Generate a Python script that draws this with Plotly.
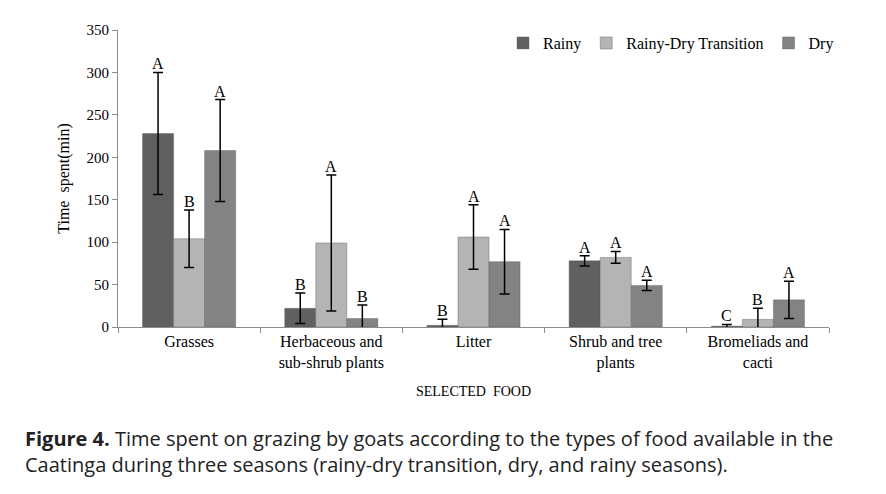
import plotly.graph_objects as go

categories = ["Grasses", "Herbaceous and<br>sub-shrub plants", "Litter",
              "Shrub and tree<br>plants", "Bromeliads and<br>cacti"]
series_names = ["Rainy", "Rainy-Dry Transition", "Dry"]
rainy = [228, 22, 2, 78, 1]
rainy_err = [72, 18, 7, 6, 2]
rainy_letters = ["A", "B", "B", "A", "C"]
transition = [104, 99, 106, 82, 9]
transition_err = [34, 80, 38, 7, 13]
transition_letters = ["B", "A", "A", "A", "B"]
dry = [208, 10, 77, 49, 32]
dry_err = [60, 16, 38, 6, 22]
dry_letters = ["A", "B", "A", "A", "A"]
y_ticks = [0, 50, 100, 150, 200, 250, 300, 350]

colors = ["#606060", "#b4b4b4", "#838383"]
values = [rainy, transition, dry]
errors = [rainy_err, transition_err, dry_err]
letters = [rainy_letters, transition_letters, dry_letters]

# page has an 8px body margin, so the figure is sized to fit the window
W, H = 878, 486
ML, MR, MT, MB = 110, 57, 22, 167
BARGAP = 0.345
serif = "Liberation Serif, Times New Roman, serif"

fig = go.Figure()
for name, v, e, c in zip(series_names, values, errors, colors):
    fig.add_trace(go.Bar(
        name=name, x=categories, y=v,
        marker=dict(color=c, line=dict(color="#5a5a5a", width=0.4)),
        error_y=dict(type="data", array=e, visible=True, color="black",
                     thickness=1.5, width=5),
    ))

plot_w = W - ML - MR
plot_h = H - MT - MB
cat_w = plot_w / len(categories)
bar_w = cat_w * (1 - BARGAP) / len(series_names)
for i, (v, e, L) in enumerate(zip(values, errors, letters)):
    shift = (i - 1) * bar_w
    for cat, vv, ee, ll in zip(categories, v, e, L):
        fig.add_annotation(x=cat, y=vv + ee, text=ll, showarrow=False,
                           xshift=shift, yanchor="bottom", yshift=-2,
                           font=dict(family=serif, size=16, color="black"))

fig.add_annotation(
    xref="paper", yref="paper", x=(15 - ML) / plot_w, y=(MT + plot_h - 443.5) / plot_h,
    xanchor="left", yanchor="middle", align="left", showarrow=False,
    text="<b>Figure 4.</b> Time spent on grazing by goats according to the types of food available in the<br>"
         "Caatinga during three seasons (rainy-dry transition, dry, and rainy seasons).",
    font=dict(family="Open Sans, Noto Sans, sans-serif", size=20, color="#222222"),
)

fig.update_layout(
    width=W, height=H,
    margin=dict(l=ML, r=MR, t=MT, b=MB, autoexpand=False),
    paper_bgcolor="white", plot_bgcolor="white",
    barmode="group", bargap=BARGAP, bargroupgap=0,
    font=dict(family=serif, size=15, color="black"),
    showlegend=True,
    legend=dict(orientation="h", x=0.5415, y=0.956, xanchor="left", yanchor="middle",
                font=dict(family=serif, size=16), bgcolor="rgba(0,0,0,0)",
                itemwidth=30, tracegroupgap=0),
    xaxis=dict(showline=True, linecolor="#8c8c8c", linewidth=1, ticks="outside",
               tickson="boundaries", ticklen=5, tickcolor="#8c8c8c",
               tickfont=dict(family=serif, size=16),
               title=dict(text="SELECTED  FOOD", font=dict(family=serif, size=14), standoff=15)),
    yaxis=dict(range=[0, 350], tickvals=y_ticks, showline=True, linecolor="#8c8c8c",
               linewidth=1, ticks="outside", ticklen=5, tickcolor="#8c8c8c",
               showgrid=False, zeroline=False,
               tickfont=dict(family=serif, size=15),
               title=dict(text="Time  spent(min)", font=dict(family=serif, size=16), standoff=12)),
)

fig.write_html("out.html")
